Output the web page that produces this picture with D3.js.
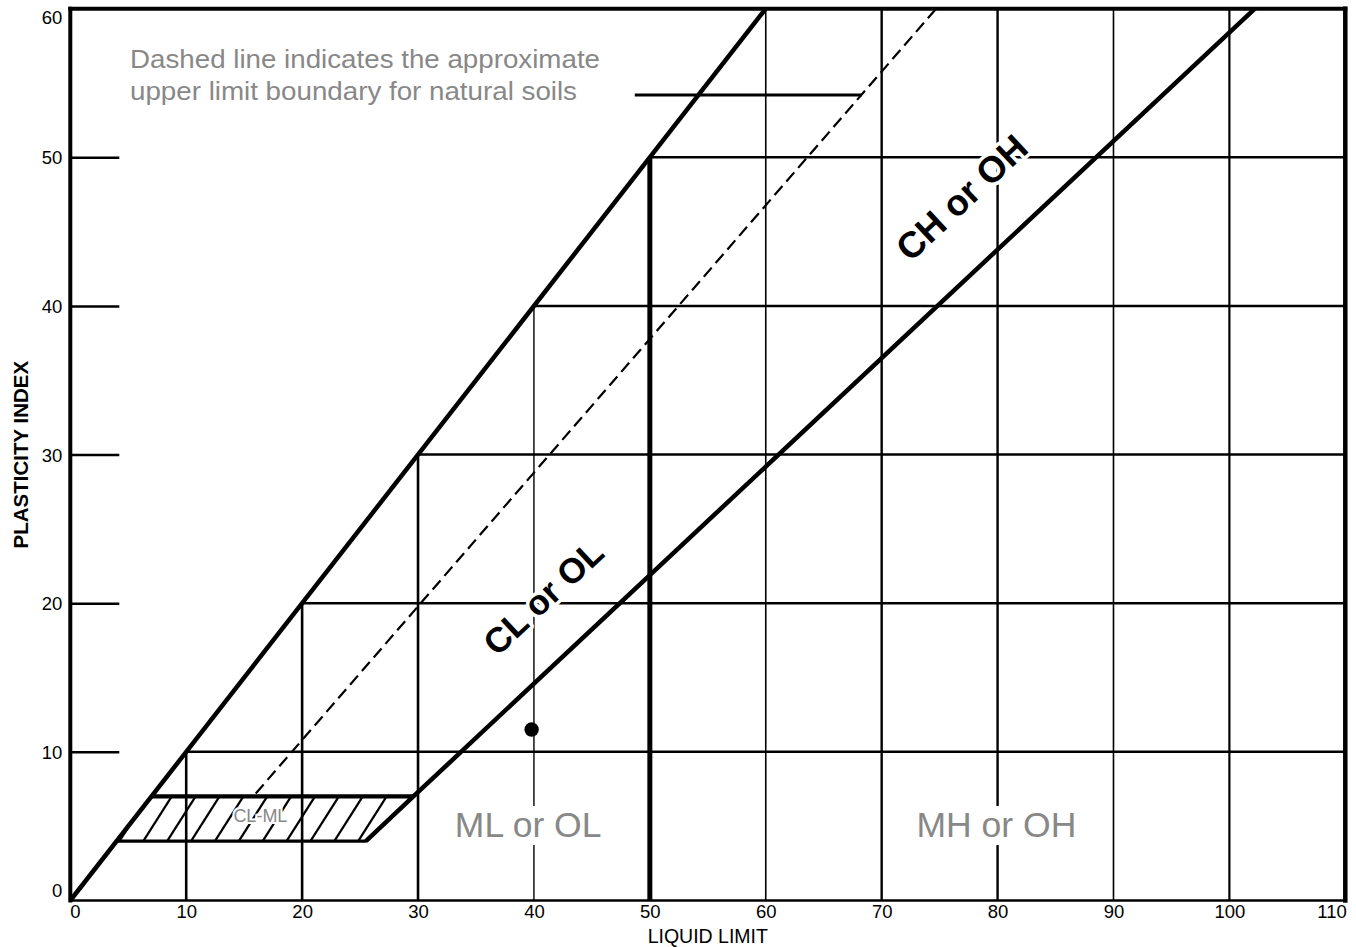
<!DOCTYPE html>
<html><head><meta charset="utf-8">
<script src="https://cdn.jsdelivr.net/npm/d3@7"></script>
<style>
html,body{margin:0;padding:0;background:#fff;}
svg{display:block;font-family:"Liberation Sans",Arial,sans-serif;}
</style></head><body>
<svg id="chart" width="1356" height="947"></svg>
<script>
// ---------- data ----------
const xTicks = [0,10,20,30,40,50,60,70,80,90,100,110];
const yTicks = [0,10,20,30,40,50,60];
const verticalGrid = [10,20,30,40,50,60,70,80,90,100];
const horizontalGrid = [10,20,30,40,50];
const uLineLL = [0,60];            // PI = LL boundary
const uLinePI = [0,60];
const aLineLL = [25.5,29.6,102.2]; // A-line
const aLinePI = [4,7,60];
const upperLL = [16,74.7];         // dashed upper-limit line
const upperPI = [7.2,60];
const clmlLL = [4,7,29.6,25.5];    // CL-ML zone
const clmlPI = [4,7,7,4];
const hatchBottomLL = [4.24,6.3,8.36,10.42,12.48,14.54,16.6,18.66,20.72,22.78,24.84,26.9];
const hatchTopShift = 2.45;
const leaderLL = [48.7,68.3];
const leaderPI = [54.2,54.2];
const sampleLL = [39.8];
const samplePI = [11.5];
const zoneLabels = ["CL or OL","CH or OH","ML or OL","MH or OH","CL-ML"];
const noteLines = ["Dashed line indicates the approximate","upper limit boundary for natural soils"];
const xTitle = "LIQUID LIMIT";
const yTitle = "PLASTICITY INDEX";

// ---------- scales ----------
const svg = d3.select("#chart");
const x = d3.scaleLinear().domain([0,110]).range([70.3,1345.3]);
const y = d3.scaleLinear().domain([0,60]).range([900.5,8.7]);
const line = d3.line().x(d=>x(d[0])).y(d=>y(d[1]));
const zip = (a,b)=>a.map((v,i)=>[v,b[i]]);
const gray = "#888888";

// ---------- grid ----------
const vWidth = {10:2.6,20:2.6,30:2.6,40:1.4,50:5,60:1.6,70:2.4,80:2.4,90:1.6,100:2.2};
svg.append("g").selectAll("line").data(verticalGrid).join("line")
  .attr("x1",d=>x(d)).attr("x2",d=>x(d))
  .attr("y1",y(0)).attr("y2",d=>y(Math.min(d,60)))
  .attr("stroke","#000").attr("stroke-width",d=>vWidth[d]);
svg.append("g").selectAll("line").data(horizontalGrid).join("line")
  .attr("x1",d=>x(d)).attr("x2",x(110))
  .attr("y1",d=>y(d)).attr("y2",d=>y(d))
  .attr("stroke","#000").attr("stroke-width",2.5);

// ---------- axes ----------
const yAxis = d3.axisLeft(y).tickValues(yTicks).tickSize(-49).tickPadding(8);
const gy = svg.append("g").attr("transform",`translate(${x(0)},0)`).call(yAxis);
gy.select(".domain").remove();
gy.selectAll(".tick line").attr("stroke","#000").attr("stroke-width",2.5)
  .attr("display",d=>(d===0||d===60)?"none":null);
gy.selectAll(".tick text").attr("font-size",18.5).attr("fill","#000")
  .attr("font-family","'Liberation Sans',Arial,sans-serif")
  .attr("y",d=>d===0?-9.5:(d===60?9.3:0.5));

const xAxis = d3.axisBottom(x).tickValues(xTicks).tickSize(0).tickPadding(4);
const gx = svg.append("g").attr("transform",`translate(0,${y(0)})`).call(xAxis);
gx.select(".domain").remove();
gx.selectAll(".tick text").attr("font-size",18.5).attr("fill","#000")
  .attr("font-family","'Liberation Sans',Arial,sans-serif")
  .attr("text-anchor",d=>d===0?"start":(d===110?"end":"middle"))
  .attr("x",d=>d===0?-0.5:(d===110?1:0));

// ---------- frame ----------
const frame = svg.append("g").attr("stroke","#000").attr("stroke-linecap","square");
frame.append("line").attr("x1",x(0)).attr("x2",x(0)).attr("y1",y(60)).attr("y2",y(0)).attr("stroke-width",4);
frame.append("line").attr("x1",x(0)).attr("x2",x(110)).attr("y1",y(60)).attr("y2",y(60)).attr("stroke-width",4);
frame.append("line").attr("x1",x(110)).attr("x2",x(110)).attr("y1",y(60)).attr("y2",y(0)).attr("stroke-width",4.5);
frame.append("line").attr("x1",x(0)).attr("x2",x(110)).attr("y1",y(0)).attr("y2",y(0)).attr("stroke-width",2.7);

// ---------- CL-ML zone ----------
const zone = zip(clmlLL,clmlPI);
svg.append("clipPath").attr("id","clml").append("path").attr("d",line(zone)+"Z");
svg.append("g").attr("clip-path","url(#clml)").selectAll("line").data(hatchBottomLL).join("line")
  .attr("x1",d=>x(d)).attr("y1",y(4))
  .attr("x2",d=>x(d+hatchTopShift)).attr("y2",y(7))
  .attr("stroke","#000").attr("stroke-width",2.3);
svg.append("path").attr("d",line([zone[1],zone[2]])).attr("stroke","#000").attr("stroke-width",4.2).attr("fill","none");
svg.append("path").attr("d",line([zone[0],zone[3],zone[2]])).attr("stroke","#000").attr("stroke-width",3.2).attr("fill","none").attr("stroke-linejoin","round");

// ---------- boundary lines ----------
svg.append("path").attr("d",line(zip(upperLL,upperPI))).attr("fill","none")
  .attr("stroke","#000").attr("stroke-width",2.2).attr("stroke-dasharray","12,6");
svg.append("path").attr("d",line(zip(uLineLL,uLinePI))).attr("fill","none")
  .attr("stroke","#000").attr("stroke-width",4.5);
svg.append("path").attr("d",line(zip(aLineLL,aLinePI))).attr("fill","none")
  .attr("stroke","#000").attr("stroke-width",4.5).attr("stroke-linejoin","round");
svg.append("path").attr("d",line(zip(leaderLL,leaderPI))).attr("fill","none")
  .attr("stroke","#000").attr("stroke-width",3);

// ---------- labels ----------
const ang = -Math.atan((y(0)-y(0.73))/(x(1)-x(0)))*180/Math.PI;
function rotLabel(txt,ll,pi,fs){
  svg.append("text").attr("transform",`translate(${x(ll)},${y(pi)}) rotate(${ang})`)
    .attr("text-anchor","middle").attr("dy","0.35em")
    .attr("font-size",fs).attr("font-weight","bold").attr("fill","#000")
    .attr("stroke","#fff").attr("stroke-width",7).attr("paint-order","stroke")
    .attr("stroke-linejoin","round").text(txt);
}
rotLabel(zoneLabels[0],40.8,20.4,35);
rotLabel(zoneLabels[1],76.9,47.3,36.5);

function boxLabel(txt,ll,pi,fs){
  const g = svg.append("g");
  const t = g.append("text").attr("x",x(ll)).attr("y",y(pi)).attr("text-anchor","middle")
    .attr("font-size",fs).attr("fill",gray).text(txt);
  const b = t.node().getBBox();
  g.insert("rect","text").attr("x",b.x-2).attr("y",b.y+1).attr("width",b.width+4).attr("height",b.height-1).attr("fill","#fff");
}
boxLabel(zoneLabels[2],39.5,4.27,35.5);
boxLabel(zoneLabels[3],79.9,4.27,35.5);

svg.append("text").attr("x",x(16.4)).attr("y",y(5.7)).attr("dy","0.36em").attr("text-anchor","middle")
  .attr("font-size",18).attr("fill",gray)
  .attr("stroke","#fff").attr("stroke-width",4).attr("paint-order","stroke").text(zoneLabels[4]);

// note text
const noteWidths = [470,447];
svg.append("g").selectAll("text").data(noteLines).join("text")
  .attr("x",130).attr("y",(d,i)=>68+i*32)
  .attr("font-size",26.5).attr("fill",gray)
  .attr("textLength",(d,i)=>noteWidths[i]).attr("lengthAdjust","spacingAndGlyphs")
  .text(d=>d);

// axis titles
svg.append("text").attr("x",(x(0)+x(110))/2).attr("y",943).attr("text-anchor","middle")
  .attr("font-size",19.5).attr("fill","#000").text(xTitle);
svg.append("text").attr("transform",`translate(28,${(y(0)+y(60))/2}) rotate(-90)`)
  .attr("text-anchor","middle").attr("font-size",20.5).attr("font-weight","bold").attr("fill","#000").text(yTitle);

// ---------- sample point ----------
svg.append("g").selectAll("circle").data(zip(sampleLL,samplePI)).join("circle")
  .attr("cx",d=>x(d[0])).attr("cy",d=>y(d[1])).attr("r",7.2).attr("fill","#000");
</script>
</body></html>
